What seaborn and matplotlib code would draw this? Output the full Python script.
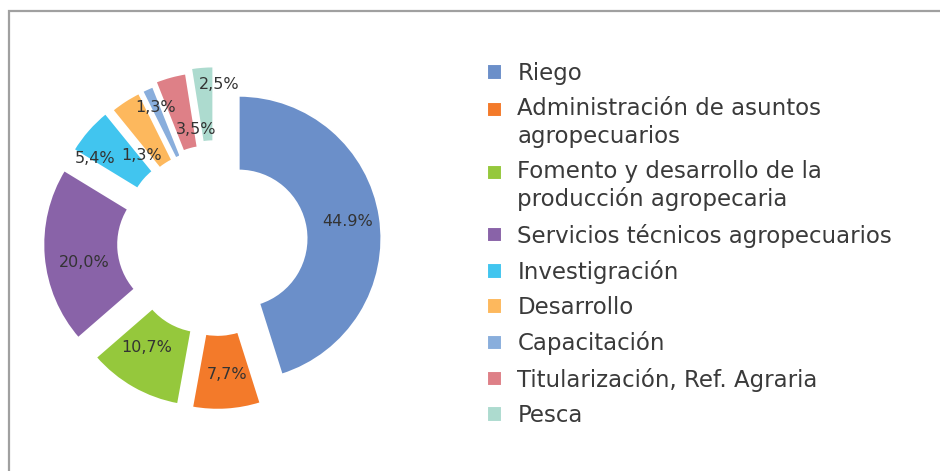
import matplotlib
matplotlib.use("Agg")
import matplotlib.pyplot as plt
import matplotlib.patches as mpatches
from matplotlib.legend_handler import HandlerPatch
import numpy as np
import seaborn as sns

# Datos del gráfico (participación por rubro)
categorias = ["Riego", "Administración de asuntos\nagropecuarios",
              "Fomento y desarrollo de la\nproducción agropecaria",
              "Servicios técnicos agropecuarios", "Investigración", "Desarrollo",
              "Capacitación", "Titularización, Ref. Agraria", "Pesca"]
valores = [44.9, 7.7, 10.7, 20.0, 5.4, 3.5, 1.3, 3.5, 2.5]
etiquetas = ["44.9%", "7,7%", "10,7%", "20,0%", "5,4%", "1,3%", "1,3%", "3,5%", "2,5%"]
colores = ["#6B8FC9", "#F37A2A", "#95C83C", "#8963A8", "#41C5EF",
           "#FDB85D", "#89AEDC", "#DE8087", "#ADDBCF"]

# Ajustes de estilo: separación de cada porción y posición de sus etiquetas
separacion = [0.16, 0.175, 0.175, 0.21, 0.19, 0.175, 0.175, 0.20, 0.23]
radio_etiqueta = [0.93, 0.93, 0.88, 0.93, 1.03, 0.80, 1.03, 0.80, 1.10]
giro_etiqueta = [0, 1, -3.6, 3.9, 6.7, 7.7, 0, -5.2, -5.6]


# Cuadro de leyenda alineado con la primera línea del texto
class CuadroPrimeraLinea(HandlerPatch):
    def __init__(self, subir=0.0, **kw):
        super().__init__(**kw)
        self.subir = subir

    def create_artists(self, legend, orig_handle, xdescent, ydescent,
                       width, height, fontsize, trans):
        p = mpatches.Rectangle((-xdescent, -ydescent + self.subir * fontsize),
                               width, height)
        self.update_prop(p, orig_handle, legend)
        p.set_transform(trans)
        return [p]


sns.set_theme(style="white")
plt.rcParams["font.family"] = ["DejaVu Sans"]
paleta = sns.color_palette(colores)

fig = plt.figure(figsize=(9.4, 4.71), dpi=100)
ax = fig.add_axes([16 / 940, 29 / 471, 400 / 940, 400 / 471])

wedges, _ = ax.pie(valores, colors=paleta, startangle=90, counterclock=False,
                   explode=separacion, radius=1.0,
                   wedgeprops=dict(width=0.525, edgecolor="white", linewidth=1.5))
ax.set_xlim(-1.4, 1.4)
ax.set_ylim(-1.4, 1.4)
ax.set_aspect("equal")
ax.axis("off")

# Etiquetas de porcentaje sobre cada porción
for w, txt, r, g in zip(wedges, etiquetas, radio_etiqueta, giro_etiqueta):
    ang = np.deg2rad((w.theta1 + w.theta2) / 2 + g)
    ax.text(r * np.cos(ang), r * np.sin(ang), txt, ha="center", va="center",
            fontsize=11.5, color="#333333")

interlineado = 1.24
manejadores = {w: CuadroPrimeraLinea(subir=0.5 * interlineado * c.count("\n"))
               for w, c in zip(wedges, categorias)}
leg = fig.legend(wedges, categorias, loc="upper left",
                 bbox_to_anchor=(487 / 940, 1 - 62 / 471), frameon=False,
                 fontsize=16.5, labelcolor="#3a3a3a", handlelength=0.65,
                 handleheight=0.65, handletextpad=0.68, labelspacing=0.535,
                 borderpad=0, borderaxespad=0, handler_map=manejadores)
for t in leg.get_texts():
    t.set_linespacing(interlineado)

# Marco gris del gráfico
fig.patches.append(mpatches.Rectangle((9 / 940, -0.1), 1.2, 1 - 11 / 471 + 0.1,
                                      transform=fig.transFigure, fill=False,
                                      edgecolor="#a0a0a0", linewidth=1.6))

fig.savefig("out.png", dpi=100)
